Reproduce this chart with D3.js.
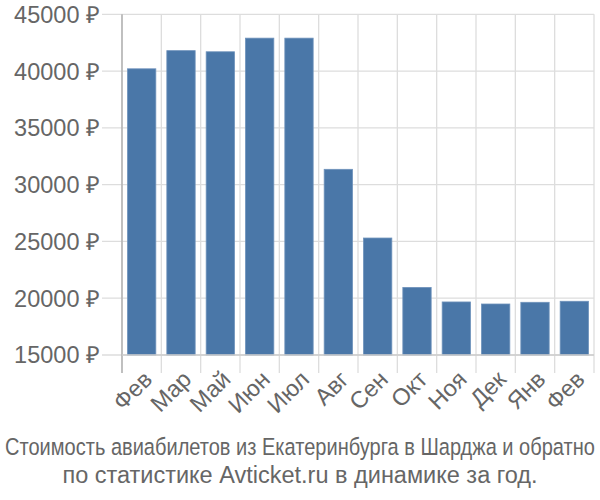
<!DOCTYPE html>
<html><head><meta charset="utf-8">
<script src="https://cdn.jsdelivr.net/npm/d3@7"></script>
<style>body{margin:0;background:#fff}svg{display:block}</style>
</head><body>
<svg id="c" width="600" height="500"></svg>
<script>
const months = ["Фев","Мар","Май","Июн","Июл","Авг","Сен","Окт","Ноя","Дек","Янв","Фев"];
const prices = [40200,41800,41700,42900,42900,31350,25300,20950,19670,19490,19640,19730];
const yTicks = [15000,20000,25000,30000,35000,40000,45000];
const titleLines = ["Стоимость авиабилетов из Екатеринбурга в Шарджа и обратно","по статистике Avticket.ru в динамике за год."];

const svg = d3.select("#c");
const L = 122, R = 594, T = 14.3, B = 355;
const x = d3.scaleBand().domain(d3.range(months.length)).range([L, R]).paddingInner(0.28).paddingOuter(0.14);
const xg = d3.scaleBand().domain(d3.range(months.length)).range([L, R]);
const y = d3.scaleLinear().domain([15000, 45000]).range([B, T]);

const font = "'Liberation Sans', Arial, sans-serif";
const fs = 23.5;
// vertical grid
svg.append("g").selectAll("line").data(d3.range(months.length + 1)).join("line")
  .attr("x1", i => L + i * xg.bandwidth()).attr("x2", i => L + i * xg.bandwidth())
  .attr("y1", T).attr("y2", B + 18)
  .attr("stroke", "#ddd").attr("stroke-width", 1.3);
// horizontal grid
svg.append("g").selectAll("line").data(yTicks).join("line")
  .attr("x1", L - 20).attr("x2", R).attr("y1", d => y(d)).attr("y2", d => y(d))
  .attr("stroke", "#ddd").attr("stroke-width", 1.3);

// bars
svg.append("g").selectAll("rect").data(prices).join("rect")
  .attr("x", (d, i) => x(i)).attr("width", x.bandwidth())
  .attr("y", d => y(d)).attr("height", d => B - y(d))
  .attr("fill", "#4a77a8").attr("stroke", "#6e92bb").attr("stroke-width", 0.8);

// axes lines
svg.append("line").attr("x1", L).attr("x2", L).attr("y1", T).attr("y2", B + 18).attr("stroke", "#aaa").attr("stroke-width", 1.3);
svg.append("line").attr("x1", L).attr("x2", R).attr("y1", B).attr("y2", B).attr("stroke", "#ccc").attr("stroke-width", 1.3);

// y labels
svg.append("g").selectAll("text").data(yTicks).join("text")
  .attr("x", 100).attr("y", d => y(d)).attr("dy", "0.36em")
  .attr("text-anchor", "end").attr("font-family", font).attr("font-size", fs).attr("fill", "#666")
  .text(d => d + " ₽");

// x labels
svg.append("g").selectAll("text").data(months).join("text")
  .attr("transform", (d, i) => `translate(${xg(i) + xg.bandwidth() / 2 + 6},${B + 20}) rotate(-45)`)
  .attr("text-anchor", "end").attr("font-family", font).attr("font-size", fs).attr("fill", "#666")
  .attr("dy", "0.35em")
  .text(d => d);

// title
svg.append("g").selectAll("text").data(titleLines).join("text")
  .attr("text-anchor", "middle").attr("font-family", font).attr("font-size", fs).attr("fill", "#666")
  .text(d => d)
  .each(function(d, i) {
    const w = this.getComputedTextLength();
    const s = Math.min(1, 590 / w);
    d3.select(this).attr("transform", `translate(300,${455 + i * 28}) scale(${s},1)`);
  });
</script>
</body></html>
